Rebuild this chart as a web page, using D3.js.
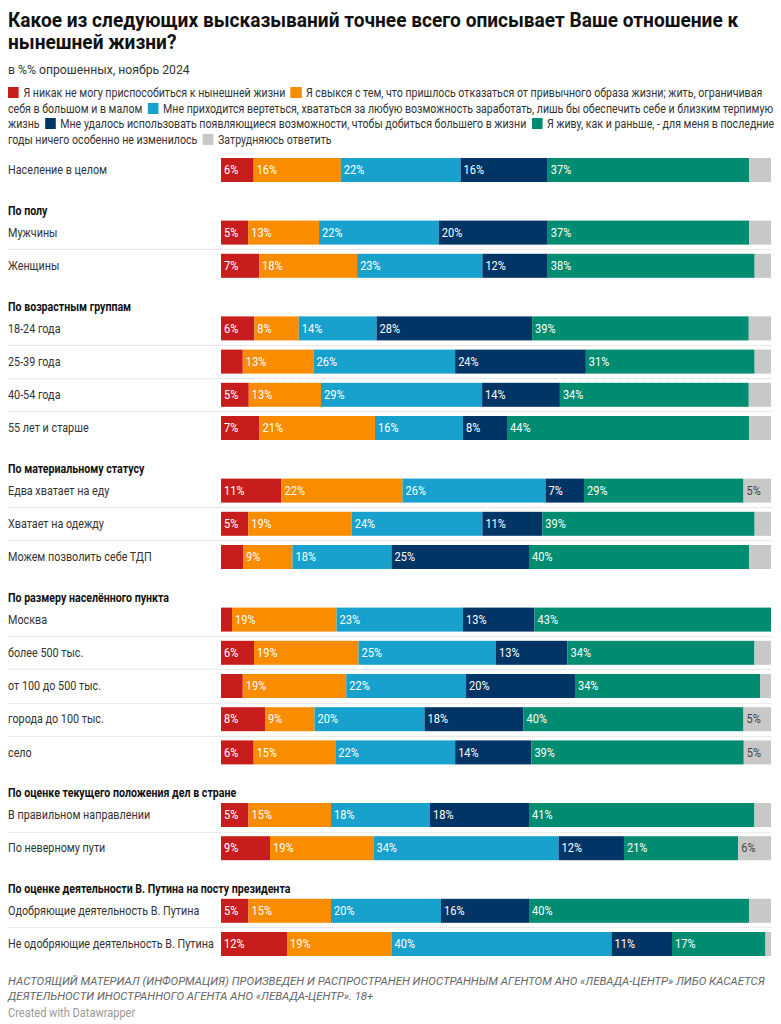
<!DOCTYPE html>
<html><head><meta charset="utf-8">
<script src="https://cdn.jsdelivr.net/npm/d3@7"></script>
<style>
body{margin:0;background:#fff;font-family:Roboto,"Noto Sans",sans-serif;color:#222;}
#wrap{position:relative;width:781px;height:1024px;overflow:hidden;}
.title{position:absolute;left:8px;top:9px;width:800px;font-size:20px;font-weight:700;line-height:22px;color:#111;transform:scaleX(0.955);transform-origin:0 0;white-space:nowrap;}
.sub{position:absolute;left:8px;top:62px;font-size:13px;color:#333;transform:scaleX(0.94);transform-origin:0 0;white-space:nowrap;}
.legend{position:absolute;left:8px;top:86px;width:867px;font-size:12px;line-height:15.6px;color:#333;transform:scaleX(0.885);transform-origin:0 0;}
.legend .sw{display:inline-block;width:12.4px;height:11px;margin-right:5px;vertical-align:-1px;}
.foot{position:absolute;left:8px;top:974px;width:775px;font-size:11.4px;font-style:italic;color:#666;line-height:15px;}
.credit{position:absolute;left:8px;top:1006px;font-size:12px;color:#999;transform:scaleX(0.92);transform-origin:0 0;white-space:nowrap;}
svg{position:absolute;left:0;top:0;}
</style></head>
<body><div id="wrap"></div>
<script>
const titleLines = ["Какое из следующих высказываний точнее всего описывает Ваше отношение к","нынешней жизни?"];
const subtitleText = "в %% опрошенных, ноябрь 2024";
const seriesNames = [
  "Я никак не могу приспособиться к нынешней жизни",
  "Я свыкся с тем, что пришлось отказаться от привычного образа жизни; жить, ограничивая себя в большом и в малом",
  "Мне приходится вертеться, хвататься за любую возможность заработать, лишь бы обеспечить себе и близким терпимую жизнь",
  "Мне удалось использовать появляющиеся возможности, чтобы добиться большего в жизни",
  "Я живу, как и раньше, - для меня в последние годы ничего особенно не изменилось",
  "Затрудняюсь ответить"
];
const seriesColors = ["#c71e1d","#fa8c00","#18a1cd","#003566","#008c70","#c8c8c8"];
const groupTitles = [null,"По полу","По возрастным группам","По материальному статусу","По размеру населённого пункта","По оценке текущего положения дел в стране","По оценке деятельности В. Путина на посту президента"];
const rowLabels = ["Население в целом","Мужчины","Женщины","18-24 года","25-39 года","40-54 года","55 лет и старше","Едва хватает на еду","Хватает на одежду","Можем позволить себе ТДП","Москва","более 500 тыс.","от 100 до 500 тыс.","города до 100 тыс.","село","В правильном направлении","По неверному пути","Одобряющие деятельность В. Путина","Не одобряющие деятельность В. Путина"];
const rowGroup = [0,1,1,2,2,2,2,3,3,3,4,4,4,4,4,5,5,6,6];
const cannotAdapt = [6,5,7,6,4,5,7,11,5,4,2,6,4,8,6,5,9,5,12];
const gotUsedTo   = [16,13,18,8,13,13,21,22,19,9,19,19,19,9,15,15,19,15,19];
const struggle    = [22,22,23,14,26,29,16,26,24,18,23,25,22,20,22,18,34,20,40];
const succeeded   = [16,20,12,28,24,14,8,7,11,25,13,13,20,18,14,18,12,16,11];
const unchanged   = [37,37,38,39,31,34,44,29,39,40,43,34,34,40,39,41,21,40,17];
const dontKnow    = [4,4,3,4,3,4,4,5,3,4,0,3,2,5,5,3,6,4,1];
const footText = "НАСТОЯЩИЙ МАТЕРИАЛ (ИНФОРМАЦИЯ) ПРОИЗВЕДЕН И РАСПРОСТРАНЕН ИНОСТРАННЫМ АГЕНТОМ АНО «ЛЕВАДА-ЦЕНТР» ЛИБО КАСАЕТСЯ ДЕЯТЕЛЬНОСТИ ИНОСТРАННОГО АГЕНТА АНО «ЛЕВАДА-ЦЕНТР». 18+";
const creditText = "Created with Datawrapper";

const series = [cannotAdapt, gotUsedTo, struggle, succeeded, unchanged, dontKnow];
const wrap = d3.select("#wrap");
const tdiv = wrap.append("div").attr("class","title");
titleLines.forEach((t,i)=>{ tdiv.append("div").text(t); });
wrap.append("div").attr("class","sub").text(subtitleText);
const leg = wrap.append("div").attr("class","legend");
seriesNames.forEach((n,i)=>{
  const s = leg.append("span");
  s.append("span").attr("class","sw").style("background",seriesColors[i]);
  s.append("span").text(n);
  if(i<seriesNames.length-1) leg.append("span").html(" &nbsp;");
});
wrap.append("div").attr("class","foot").text(footText);
wrap.append("div").attr("class","credit").text(creditText);

const W=781,H=1024;
const svg = wrap.append("svg").attr("width",W).attr("height",H);
const x = d3.scaleLinear().domain([0,100]).range([221,771]);
const barH = 24, pitch = 33.2, headGap = 40.8, headToRow = 21.8;

function sText(g, tx, ty, sx, txt){
  return g.append("text").attr("transform",`translate(${tx},${ty}) scale(${sx},1)`)
    .attr("dy","0.35em").text(txt);
}

const rowsY = []; const heads = [];
let y = 170; let prevG = 0;
rowLabels.forEach((l,i)=>{
  if(i>0){
    if(rowGroup[i]!==prevG){ y += headGap; heads.push({t:groupTitles[rowGroup[i]], y:y}); y += headToRow; }
    else y += pitch;
  }
  rowsY.push(y); prevG = rowGroup[i];
});

heads.forEach(h=>{
  sText(svg, 8, h.y, 0.885, h.t).style("font-size","12px").style("font-weight",700).style("fill","#111");
});

rowLabels.forEach((l,i)=>{
  if(i>0 && rowGroup[i]===rowGroup[i-1]){
    const sy = Math.round((rowsY[i]+rowsY[i-1])/2)+0.5;
    svg.append("line").attr("x1",8).attr("x2",771).attr("y1",sy).attr("y2",sy)
      .attr("stroke","#d8d8d8").attr("stroke-dasharray","1,1");
  }
});

rowLabels.forEach((l,i)=>{
  const cy = rowsY[i];
  sText(svg, 8, cy, 0.9, l).style("font-size","12px").style("fill","#333");
  const vals = series.map(s=>s[i]);
  const total = d3.sum(vals);
  let cum = 0;
  vals.forEach((v,k)=>{
    const x0 = x(cum/total*100), x1 = x((cum+v)/total*100);
    cum += v;
    if(v<=0) return;
    svg.append("rect").attr("x",x0).attr("y",cy-barH/2).attr("width",x1-x0).attr("height",barH)
      .attr("fill",seriesColors[k]);
    if(v>=5){
      sText(svg, x0+3, cy, 0.92, v+"%").style("font-size","12px").style("fill",k===5?"#444":"#fff");
    }
  });
});
</script></body></html>
